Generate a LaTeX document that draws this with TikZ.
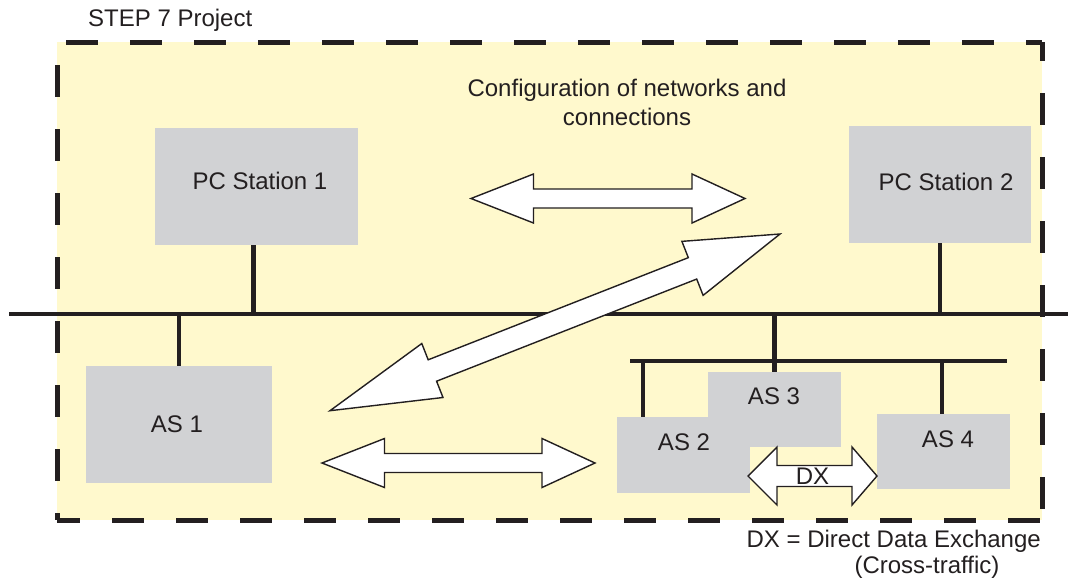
\documentclass[tikz,border=0pt]{standalone}
\usepackage{fontspec}
\setmainfont{Liberation Sans}
\usetikzlibrary{calc}
\definecolor{bgyellow}{RGB}{255,249,205}
\definecolor{boxgray}{RGB}{209,210,212}
\definecolor{ink}{RGB}{35,31,32}
% double block arrow: #1 tail tip, #2 head tip, #3 tail head length, #4 head length, #5 head half-width, #6 shaft half-width
\newcommand\dblarrow[6]{%
  \draw[blockarrow] (#1) -- ($(#1)!#3!(#2)!#5!90:(#2)$) -- ($(#1)!#3!(#2)!#6!90:(#2)$)
   -- ($(#2)!#4!(#1)!#6!-90:(#1)$) -- ($(#2)!#4!(#1)!#5!-90:(#1)$) -- (#2)
   -- ($(#2)!#4!(#1)!#5!90:(#1)$) -- ($(#2)!#4!(#1)!#6!90:(#1)$)
   -- ($(#1)!#3!(#2)!#6!-90:(#2)$) -- ($(#1)!#3!(#2)!#5!-90:(#2)$) -- cycle;}
\begin{document}
\begin{tikzpicture}[x=1pt,y=-1pt,
  txt/.style={inner sep=0pt, anchor=base, text=ink, font=\fontsize{24}{29}\selectfont},
  box/.style={fill=boxgray, draw=none, inner sep=0pt},
  border/.style={draw=ink, line width=5pt, dash pattern=on 32pt off 32pt},
  mainbus/.style={draw=ink, line width=4.5pt},
  subbus/.style={draw=ink, line width=3.5pt},
  drop/.style={draw=ink, line width=4.5pt},
  blockarrow/.style={draw=ink, fill=white, line width=1.4pt, line join=miter}]
\useasboundingbox (0,0) rectangle (1068,582);
% project area
\fill[bgyellow] (57,42) rectangle (1042,520);
\draw[border, dash phase=55pt] (57,42) -- (1042,42);
\draw[border, dash phase=13pt] (1042,42) -- (1042,520);
\draw[border, dash phase=9pt] (57,520) -- (1042,520);
\draw[border, dash phase=41pt] (57,42) -- (57,520);
\node[txt, anchor=base west] (title) at (88,26) {STEP 7 Project};
\node[txt, align=center] (config) at (627,125) {Configuration of networks and\\connections};
% stations
\node[box, minimum width=203pt, minimum height=117pt] (pc1) at (256.5,186.5) {};
\node[box, minimum width=182pt, minimum height=117pt] (pc2) at (940,184.5) {};
\node[box, minimum width=186pt, minimum height=117pt] (as1) at (179,424.5) {};
\node[box, minimum width=133pt, minimum height=76pt] (as2) at (683.5,455) {};
\node[box, minimum width=133pt, minimum height=75pt] (as3) at (774.5,409.5) {};
\node[box, minimum width=133pt, minimum height=75pt] (as4) at (943.5,451.5) {};
\node[txt] (pc1t) at (260,189) {PC Station 1};
\node[txt] (pc2t) at (946,190) {PC Station 2};
\node[txt] (as1t) at (177,432) {AS 1};
\node[txt] (as2t) at (684,450) {AS 2};
\node[txt] (as3t) at (774,404) {AS 3};
\node[txt] (as4t) at (948,447) {AS 4};
% buses
\coordinate (bus-l) at (9,314);
\coordinate (bus-r) at (1068,314);
\coordinate (j1) at (253.5,314);
\coordinate (j2) at (940,314);
\coordinate (j3) at (179,314);
\coordinate (j4) at (774.5,314);
\coordinate (sb-l) at (630,361);
\coordinate (sb-r) at (1007,361);
\coordinate (k2) at (643,361);
\coordinate (k4) at (942,361);
\draw[mainbus] (bus-l) -- (bus-r);
\draw[drop] (pc1.south -| j1) -- (j1);
\draw[drop] (pc2.south) -- (j2);
\draw[drop] (j3) -- (as1.north);
\draw[drop] (j4) -- (as3.north);
\draw[subbus] (sb-l) -- (sb-r);
\draw[drop, line width=4pt] (k2) -- (k2 |- as2.north);
\draw[drop, line width=4pt] (k4) -- (k4 |- as4.north);
% arrows
\coordinate (a1) at (471,198.5);
\coordinate (a2) at (745,198.5);
\coordinate (b1) at (322,463);
\coordinate (b2) at (595,463);
\coordinate (c1) at (330,410.7);
\coordinate (c2) at (780,234);
\coordinate (d1) at (748,476);
\coordinate (d2) at (877,476);
\dblarrow{a1}{a2}{62.5pt}{53pt}{24.5pt}{9.5pt}
\dblarrow{b1}{b2}{62.5pt}{53pt}{24.5pt}{9.5pt}
\dblarrow{c1}{c2}{110pt}{94pt}{29pt}{11.5pt}
\dblarrow{d1}{d2}{29pt}{25pt}{29pt}{10.5pt}
\node[txt] (dx) at (812.5,484) {DX};
\node[txt, anchor=base east] (legend1) at (1041,547) {DX = Direct Data Exchange};
\node[txt] (legend2) at (927,573) {(Cross-traffic)};
\end{tikzpicture}
\end{document}
